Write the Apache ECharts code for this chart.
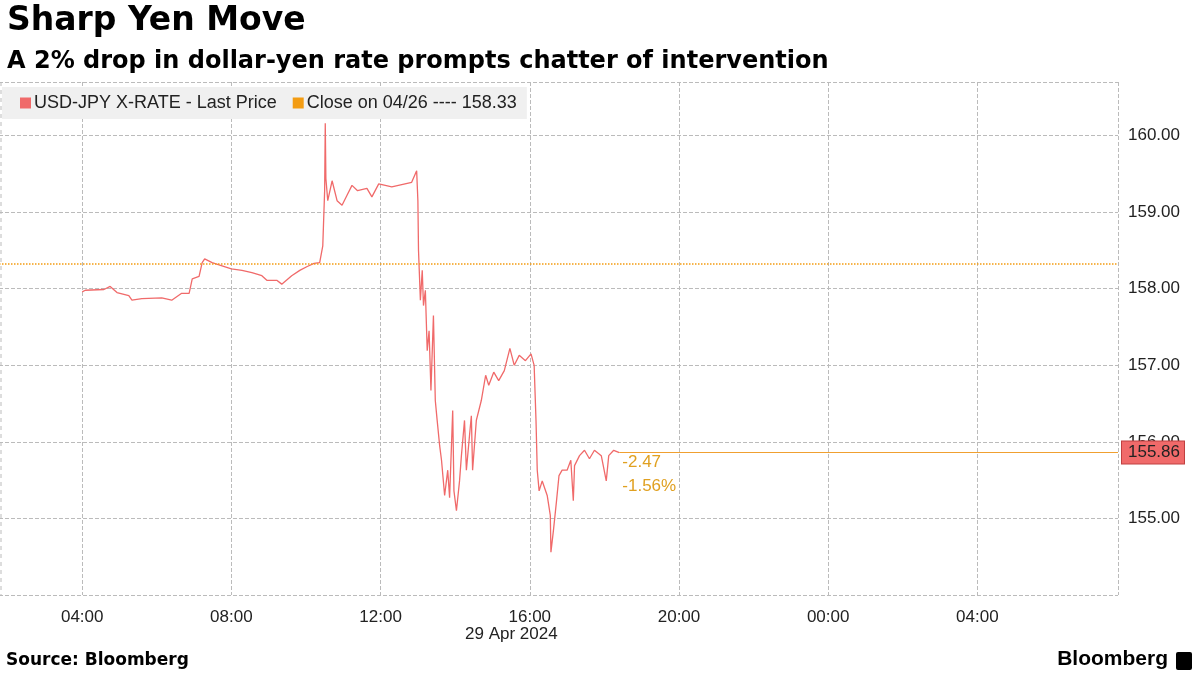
<!DOCTYPE html>
<html><head><meta charset="utf-8">
<script src="https://cdn.jsdelivr.net/npm/echarts@6/dist/echarts.min.js"></script>
<style>html,body{margin:0;padding:0;background:#fff;overflow:hidden;width:1200px;height:675px}#c{position:absolute;left:-70px;top:0;width:1270px;height:675px}</style>
</head><body><div id="c"></div>
<script>
const times = ["04:00","04:05","04:35","04:45","04:56","05:15","05:20","05:36","06:08","06:24","06:40","06:52","06:57","07:08","07:13","07:17","07:29","07:45","08:00","08:17","08:33","08:49","08:57","09:13","09:21","09:37","09:50","10:02","10:13","10:22","10:27","10:30","10:31","10:32","10:35","10:42","10:50","10:58","11:06","11:14","11:23","11:38","11:46","11:57","12:18","12:34","12:50","12:58","13:00","13:01","13:04","13:07","13:09","13:12","13:15","13:18","13:21","13:25","13:28","13:31","13:35","13:38","13:43","13:48","13:51","13:56","13:58","14:02","14:07","14:10","14:15","14:18","14:23","14:26","14:28","14:34","14:42","14:49","14:54","15:02","15:10","15:19","15:28","15:35","15:43","15:53","16:02","16:07","16:10","16:12","16:15","16:20","16:28","16:33","16:34","16:38","16:43","16:47","16:52","17:00","17:06","17:10","17:12","17:20","17:28","17:36","17:44","17:47","17:55","18:03","18:07","18:15","18:24"];
const prices = [157.96,157.98,157.99,158.03,157.95,157.91,157.85,157.87,157.88,157.85,157.94,157.94,158.13,158.16,158.34,158.39,158.34,158.30,158.26,158.24,158.21,158.17,158.11,158.11,158.06,158.17,158.24,158.29,158.33,158.34,158.56,159.28,160.16,159.44,159.15,159.41,159.15,159.09,159.22,159.35,159.28,159.31,159.20,159.37,159.33,159.36,159.39,159.54,159.15,158.50,157.85,158.24,157.78,157.98,157.19,157.45,156.67,157.65,156.54,156.28,155.95,155.76,155.30,155.63,155.27,156.41,155.36,155.10,155.49,155.82,156.28,155.63,156.08,156.34,155.63,156.28,156.54,156.87,156.74,156.91,156.80,156.93,157.22,157.00,157.13,157.06,157.15,157.00,156.28,155.63,155.36,155.49,155.30,155.04,154.56,154.84,155.23,155.56,155.63,155.63,155.76,155.23,155.69,155.82,155.89,155.78,155.89,155.91,155.82,155.49,155.82,155.89,155.86];
const prevClose = 158.33;
const lastPrice = 155.86;
const change = "-2.47", changePct = "-1.56%";
const xTicks = [4,8,12,16,20,24,28];

function toH(s){const [h,m]=s.split(':').map(Number);return h+m/60;}
const data = times.map((t,i)=>[toH(t),prices[i]]);
const last = data[data.length-1];
const XMIN=0, XMAX=31.77;
const O=70;
const F='"Liberation Sans", Arial, sans-serif';
const chart = echarts.init(document.getElementById('c'));
chart.setOption({
  animation:false,
  grid:{left:0,right:82,top:82,bottom:80,containLabel:false},
  title:[
    {text:'Sharp Yen Move',left:O+2,top:0,textStyle:{fontFamily:'DejaVu Sans',fontWeight:'bold',fontSize:33,color:'#000'}},
    {text:'A 2% drop in dollar-yen rate prompts chatter of intervention',left:O+2,top:45,textStyle:{fontFamily:'DejaVu Sans',fontWeight:'bold',fontSize:24,color:'#000'}}
  ],
  legend:{left:O+2,top:87,padding:[7,10,7,18],itemGap:16,backgroundColor:'#f0f0f0',itemWidth:11,itemHeight:11,icon:'rect',
    textStyle:{fontFamily:F,fontSize:18,color:'#222',padding:[0,0,0,-2]},
    data:[{name:'USD-JPY X-RATE - Last Price'},{name:'Close on 04/26 ---- '+prevClose.toFixed(2)}]},
  xAxis:{type:'value',min:XMIN,max:XMAX,interval:4,
    axisLine:{show:false},axisTick:{show:false},
    axisLabel:{fontFamily:F,fontSize:17,color:'#222',margin:14,
      formatter:v=>xTicks.includes(v)?String(v%24).padStart(2,'0')+':00':''},
    splitLine:{show:true,lineStyle:{color:'#bbb',type:'dashed'}}},
  yAxis:{type:'value',position:'right',min:154,max:160.7,interval:1,
    axisLine:{show:true,lineStyle:{color:'#f06060',width:1}},axisTick:{show:false},
    axisLabel:{fontFamily:F,fontSize:17,color:'#222',margin:10,formatter:v=>v>=155&&v<=160?v.toFixed(2):''},
    splitLine:{show:true,lineStyle:{color:'#bbb',type:'dashed'}}},
  series:[
    {name:'USD-JPY X-RATE - Last Price',type:'line',data:data,showSymbol:false,symbol:'none',
      lineStyle:{color:'#f06a6a',width:1.3},itemStyle:{color:'#f06a6a'},
      markLine:{silent:true,symbol:'none',animation:false,label:{show:false},
        lineStyle:{color:'#f0a030',width:1,type:'solid'},
        data:[[{coord:[last[0],lastPrice]},{coord:[XMAX,lastPrice]}]]},
      markPoint:{symbol:'circle',symbolSize:0,data:[
        {coord:last,label:{show:true,formatter:change+'\n'+changePct,position:'right',offset:[-2,22],align:'left',
          color:'#e0a020',fontFamily:F,fontSize:17,lineHeight:24}},
        {coord:[XMAX,lastPrice],label:{show:true,formatter:lastPrice.toFixed(2),position:'right',distance:4,
          backgroundColor:'#f06a6a',color:'#222',fontFamily:F,fontSize:17,padding:[3,4,2,6],borderColor:'#c04040',borderWidth:1}}]}},
    {name:'Close on 04/26 ---- '+prevClose.toFixed(2),type:'line',data:[],itemStyle:{color:'#f39c12'},
      markLine:{silent:true,symbol:'none',label:{show:false},lineStyle:{color:'#f39c12',type:'dotted',width:1.5},
        data:[{yAxis:prevClose}]}}
  ],
  graphic:[
    {type:'line',shape:{x1:O+1,y1:82,x2:O+1,y2:595},style:{stroke:'#bbb',lineDash:[4,4]}},
    {type:'text',left:O+465,top:626,style:{text:'29 Apr 2024',font:'17px '+F,fill:'#222'}},
    {type:'text',left:O+6,top:652,style:{text:'Source: Bloomberg',font:'bold 17px "DejaVu Sans"',fill:'#000'}},
    {type:'text',right:32,top:649,style:{text:'Bloomberg',font:'bold 21px '+F,fill:'#000'}},
    {type:'rect',right:8,top:652,shape:{width:16,height:18,r:2},style:{fill:'#000'}}
  ]
});
</script></body></html>
